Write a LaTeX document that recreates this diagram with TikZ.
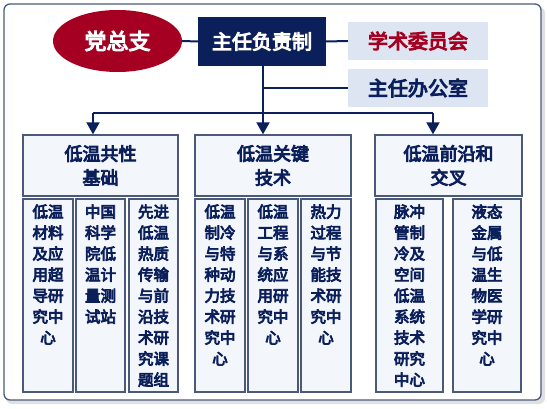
\documentclass[tikz,border=0pt]{standalone}
\usepackage{fontspec}
\setmainfont{Noto Sans CJK SC}[FakeBold=5]
\usetikzlibrary{arrows.meta,shapes.geometric}
\definecolor{navy}{HTML}{0B1F5B}
\definecolor{dred}{HTML}{A50021}
\definecolor{lightbox}{HTML}{DCE5F1}
\definecolor{subborder}{HTML}{4B5A78}
\definecolor{subfill}{HTML}{F3F6FB}
\definecolor{framec}{HTML}{4A5A80}
\tikzset{
  conn/.style={draw=navy,line width=2pt},
  arr/.style={conn,-{Triangle[length=12pt,width=13pt]}},
  catbox/.style={draw=subborder,fill=subfill,line width=1.4pt,minimum height=61pt,inner sep=0pt,
    font=\fontsize{18}{24}\selectfont,text=navy,align=center},
  subbox/.style={draw=subborder,fill=subfill,line width=1.4pt,minimum height=193pt,inner sep=0pt},
  subtext/.style={anchor=north,font=\fontsize{15.5}{21}\selectfont,text=navy,align=center,inner sep=0pt},
  sidebox/.style={fill=lightbox,minimum width=140pt,minimum height=38pt,inner sep=0pt,
    font=\fontsize{20}{24}\selectfont},
}
\begin{document}
\begin{tikzpicture}[x=1pt,y=-1pt]
\useasboundingbox (0,0) rectangle (547,409);
% frame
\fill[black!12,rounded corners=6pt] (6,7) rectangle (545,404);
\draw[framec,fill=white,line width=1.3pt,rounded corners=6pt] (4,4) rectangle (541,400);
% top
\node[ellipse,fill=dred,minimum width=129pt,minimum height=62pt,inner sep=0pt,text=white,
  font=\fontsize{22}{24}\selectfont] (dzz) at (117.5,41) {党总支};
\node[fill=navy,minimum width=128pt,minimum height=49pt,inner sep=0pt,text=white,
  font=\fontsize{20}{24}\selectfont] (zr) at (262,41.5) {主任负责制};
\node[sidebox,text=dred] (xs) at (418,41) {学术委员会};
\node[sidebox,text=navy] (bgs) at (418,88) {主任办公室};
\draw[conn] (dzz.east) -- (zr.west);
\draw[conn] (zr.east) -- (xs.west);
\coordinate (j1) at (263,88);
\coordinate (j2) at (263,113);
\coordinate (l1) at (93,113);
\coordinate (r1) at (433,113);
\draw[conn] (zr.south -| j1) -- (j2);
\draw[conn] (j1) -- (bgs.west);
\draw[conn] (l1) -- (r1);
% categories
\node[catbox,minimum width=155pt] (c1) at (100.5,165.5) {低温共性\\基础};
\node[catbox,minimum width=156pt] (c2) at (273,165.5) {低温关键\\技术};
\node[catbox,minimum width=147pt] (c3) at (448.5,165.5) {低温前沿和\\交叉};
\draw[arr] (l1) -- (l1 |- c1.north);
\draw[arr] (j2) -- (j2 |- c2.north);
\draw[arr] (r1) -- (r1 |- c3.north);
% sub boxes
\node[subbox,minimum width=50pt] (s1) at (48,295.5) {};
\node[subbox,minimum width=49pt] (s2) at (100.5,295.5) {};
\node[subbox,minimum width=49pt] (s3) at (153.5,295.5) {};
\node[subbox,minimum width=50pt] (s4) at (220,295.5) {};
\node[subbox,minimum width=50pt] (s5) at (273,295.5) {};
\node[subbox,minimum width=50pt] (s6) at (326,295.5) {};
\node[subbox,minimum width=67pt] (s7) at (409.5,295.5) {};
\node[subbox,minimum width=68pt] (s8) at (487,295.5) {};
\node[subtext] (t1) at ([yshift=-6pt]s1.north) {低温\\材料\\及应\\用超\\导研\\究中\\心};
\node[subtext] (t2) at ([yshift=-6pt]s2.north) {中国\\科学\\院低\\温计\\量测\\试站};
\node[subtext] (t3) at ([yshift=-6pt]s3.north) {先进\\低温\\热质\\传输\\与前\\沿技\\术研\\究课\\题组};
\node[subtext] (t4) at ([yshift=-6pt]s4.north) {低温\\制冷\\与特\\种动\\力技\\术研\\究中\\心};
\node[subtext] (t5) at ([yshift=-6pt]s5.north) {低温\\工程\\与系\\统应\\用研\\究中\\心};
\node[subtext] (t6) at ([yshift=-6pt]s6.north) {热力\\过程\\与节\\能技\\术研\\究中\\心};
\node[subtext] (t7) at ([yshift=-6pt]s7.north) {脉冲\\管制\\冷及\\空间\\低温\\系统\\技术\\研究\\中心};
\node[subtext] (t8) at ([yshift=-6pt]s8.north) {液态\\金属\\与低\\温生\\物医\\学研\\究中\\心};
\end{tikzpicture}
\end{document}
